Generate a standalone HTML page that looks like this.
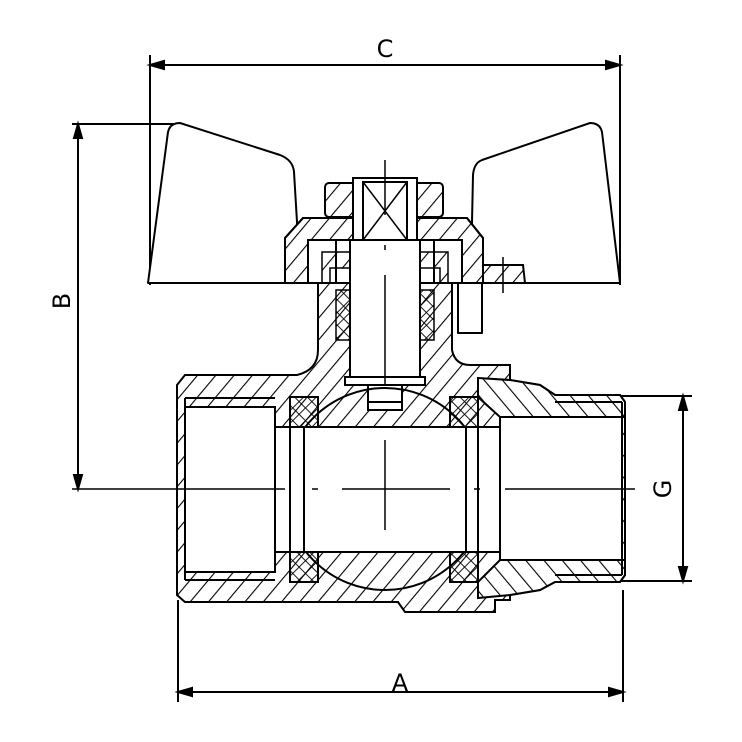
<!DOCTYPE html>
<html><head><style>html,body{margin:0;padding:0;background:#fff}svg{display:block}</style></head><body>
<svg width="742" height="742" viewBox="0 0 742 742" xmlns="http://www.w3.org/2000/svg">
<defs>
<pattern id="h" width="14" height="14" patternUnits="userSpaceOnUse" patternTransform="rotate(40)"><line x1="0" y1="0" x2="0" y2="14" stroke="#000" stroke-width="2.2"/></pattern>
<pattern id="h2" width="14" height="14" patternUnits="userSpaceOnUse" patternTransform="rotate(-40)"><line x1="0" y1="0" x2="0" y2="14" stroke="#000" stroke-width="2.2"/></pattern>
<pattern id="hx" width="9" height="9" patternUnits="userSpaceOnUse" patternTransform="rotate(45)"><line x1="0" y1="0" x2="0" y2="9" stroke="#000" stroke-width="1.8"/><line x1="0" y1="0" x2="9" y2="0" stroke="#000" stroke-width="1.8"/></pattern>
<clipPath id="ballclip"><rect x="300" y="370" width="170" height="57"/><rect x="300" y="552" width="170" height="50"/></clipPath>
</defs>
<g fill="none" stroke="#000" stroke-width="2">
<line x1="150" y1="55" x2="150" y2="285"/><line x1="620" y1="55" x2="620" y2="285"/>
<line x1="150" y1="65" x2="620" y2="65"/>
<path d="M150,65 l14,-4 v8 z M620,65 l-14,-4 v8 z" fill="#000"/>
<line x1="72" y1="124" x2="180" y2="124"/>
<line x1="78" y1="124" x2="78" y2="489"/>
<path d="M78,124 l-4,14 h8 z M78,489 l-4,-14 h8 z" fill="#000"/>
<line x1="178" y1="600" x2="178" y2="702"/><line x1="623" y1="590" x2="623" y2="702"/>
<line x1="178" y1="692" x2="623" y2="692"/>
<path d="M178,692 l14,-4 v8 z M623,692 l-14,-4 v8 z" fill="#000"/>
<line x1="590" y1="396" x2="692" y2="396"/><line x1="590" y1="581" x2="692" y2="581"/>
<line x1="683" y1="396" x2="683" y2="581"/>
<path d="M683,396 l-4,14 h8 z M683,581 l-4,-14 h8 z" fill="#000"/>
</g>
<g font-family="DejaVu Sans, sans-serif" font-size="24" fill="#000">
<text x="385" y="57" text-anchor="middle">C</text>
<text x="400" y="691" text-anchor="middle">A</text>
<text transform="translate(70,301) rotate(-90)" text-anchor="middle">B</text>
<text transform="translate(671,489) rotate(-90)" text-anchor="middle">G</text>
</g>
<path d="M177,385 L185,375 L297,375 Q318,370 318,350 L318,283 L452,283 L452,350 Q455,365 470,365 L510,365 L510,380 L540,385 L555,395 L620,395 L625,402 L625,575 L620,582 L555,582 L540,590 L510,595 L510,600 L495,600 L495,612 L405,612 L398,602 L185,602 L177,595 Z" fill="url(#h)" stroke="#000" stroke-width="2"/>
<path d="M478,378 L510,380 L540,385 L555,395 L620,395 L625,402 L625,417 L500,417 L478,397 Z" fill="#fff" stroke="none"/>
<path d="M478,378 L510,380 L540,385 L555,395 L620,395 L625,402 L625,417 L500,417 L478,397 Z" fill="url(#h2)" stroke="#000" stroke-width="2"/>
<path d="M478,582 L500,560 L625,560 L625,575 L620,582 L555,582 L540,590 L510,595 L478,598 Z" fill="#fff" stroke="none"/>
<path d="M478,582 L500,560 L625,560 L625,575 L620,582 L555,582 L540,590 L510,595 L478,598 Z" fill="url(#h2)" stroke="#000" stroke-width="2"/>
<g fill="#fff" stroke="#000" stroke-width="2">
<rect x="185" y="407" width="90" height="165"/>
<rect x="275" y="427" width="225" height="125"/>
<rect x="500" y="417" width="122" height="143"/>
<rect x="350" y="240" width="70" height="137"/>
<rect x="308" y="240" width="28" height="43"/>
<rect x="434" y="240" width="28" height="43"/>
<rect x="368" y="380" width="34" height="30"/>
</g>
<g stroke="#000" stroke-width="2" fill="none">
<line x1="185" y1="398" x2="275" y2="398"/><line x1="185" y1="580" x2="275" y2="580"/>
<line x1="185" y1="398" x2="185" y2="580"/><line x1="177" y1="385" x2="177" y2="595"/>
<line x1="555" y1="402" x2="622" y2="402"/><line x1="555" y1="575" x2="622" y2="575"/>
<line x1="622" y1="402" x2="622" y2="575"/>
<line x1="290" y1="397" x2="290" y2="582"/><line x1="478" y1="397" x2="478" y2="582"/>
<line x1="304" y1="427" x2="304" y2="552"/><line x1="466" y1="427" x2="466" y2="552"/>
<rect x="345" y="377" width="80" height="8" fill="#fff"/>
<line x1="368" y1="402" x2="402" y2="402"/>
</g>
<circle cx="385" cy="489" r="101" fill="none" stroke="#000" stroke-width="2" clip-path="url(#ballclip)"/>
<g fill="url(#hx)" stroke="#000" stroke-width="2">
<rect x="290" y="397" width="28" height="30"/><rect x="450" y="397" width="28" height="30"/>
<rect x="290" y="552" width="28" height="30"/><rect x="450" y="552" width="28" height="30"/>
</g>
<g fill="url(#hx)" stroke="#000" stroke-width="1.5">
<rect x="336" y="290" width="14" height="50"/><rect x="420" y="290" width="14" height="50"/>
</g>
<g fill="#fff" stroke="#000" stroke-width="2" stroke-linejoin="round">
<path d="M148,283 L168,132 Q170,123 180,123 L280,155 Q293,160 294,172 L297,222 L297,283 Z"/>
<path d="M620,283 L602,132 Q600,123 590,123 L482,160 Q474,163 473,175 L472,222 L472,283 Z"/>
<rect x="458" y="283" width="24" height="50"/>
</g>
<path d="M285,283 L285,238 L303,218 L467,218 L483,238 L483,283 L462,283 L462,240 L308,240 L308,283 Z" fill="#fff" stroke="#000" stroke-width="2"/>
<path d="M285,283 L285,238 L303,218 L467,218 L483,238 L483,283 L462,283 L462,240 L308,240 L308,283 Z" fill="url(#h)" stroke="#000" stroke-width="2"/>
<path d="M483,265 L523,265 L525,283 L483,283 Z" fill="url(#h)" stroke="#000" stroke-width="2"/>
<line x1="503" y1="257" x2="503" y2="293" stroke="#000" stroke-width="1.5"/>
<path d="M322,252 L350,252 L350,268 L330,268 L330,283 L322,283 Z" fill="url(#h)" stroke="#000" stroke-width="1.5"/>
<path d="M448,252 L420,252 L420,268 L440,268 L440,283 L448,283 Z" fill="url(#h)" stroke="#000" stroke-width="1.5"/>
<rect x="325" y="183" width="118" height="34" rx="4" fill="url(#h)" stroke="#000" stroke-width="2"/>
<rect x="353" y="178" width="64" height="62" fill="#fff" stroke="#000" stroke-width="2"/>
<rect x="363" y="182" width="44" height="58" fill="#fff" stroke="#000" stroke-width="2"/>
<g stroke="#000" stroke-width="1.5">
<line x1="363" y1="182" x2="407" y2="240"/><line x1="407" y1="182" x2="363" y2="240"/>
<line x1="385" y1="160" x2="385" y2="215"/><line x1="385" y1="245" x2="385" y2="250"/>
<line x1="385" y1="275" x2="385" y2="385"/>
<line x1="385" y1="440" x2="385" y2="530"/>
<line x1="72" y1="489" x2="285" y2="489"/>
<line x1="312" y1="489" x2="318" y2="489"/>
<line x1="342" y1="489" x2="450" y2="489"/>
<line x1="474" y1="489" x2="480" y2="489"/>
<line x1="505" y1="489" x2="635" y2="489"/>
</g>
</svg>
</body></html>
